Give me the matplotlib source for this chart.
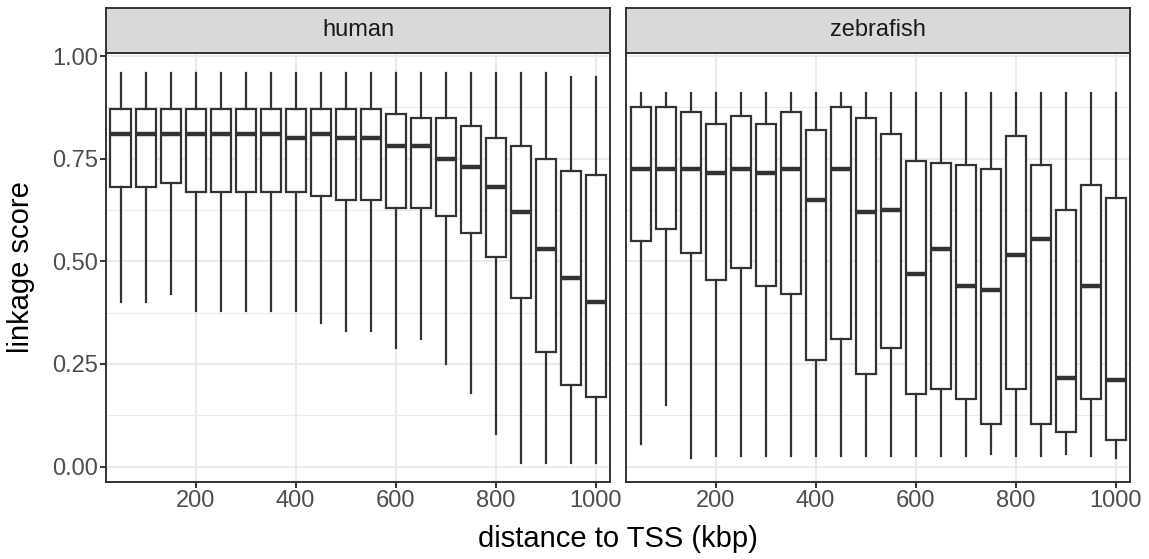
import matplotlib
matplotlib.use("Agg")
import matplotlib.pyplot as plt
import numpy as np

plt.rcParams['font.family'] = ['Liberation Sans', 'DejaVu Sans']

# distancia ao TSS (kbp)
distancias = [50, 100, 150, 200, 250, 300, 350, 400, 450, 500,
              550, 600, 650, 700, 750, 800, 850, 900, 950, 1000]

# human: bigode superior, Q3, mediana, Q1, bigode inferior
human_sup = [0.96, 0.96, 0.96, 0.96, 0.96, 0.96, 0.96, 0.96, 0.96, 0.96,
             0.96, 0.96, 0.96, 0.96, 0.96, 0.96, 0.96, 0.96, 0.95, 0.95]
human_q3 = [0.87, 0.87, 0.87, 0.87, 0.87, 0.87, 0.87, 0.87, 0.87, 0.87,
            0.87, 0.86, 0.85, 0.85, 0.83, 0.80, 0.78, 0.75, 0.72, 0.71]
human_med = [0.81, 0.81, 0.81, 0.81, 0.81, 0.81, 0.81, 0.80, 0.81, 0.80,
             0.80, 0.78, 0.78, 0.75, 0.73, 0.68, 0.62, 0.53, 0.46, 0.40]
human_q1 = [0.68, 0.68, 0.69, 0.67, 0.67, 0.67, 0.67, 0.67, 0.66, 0.65,
            0.65, 0.63, 0.63, 0.61, 0.57, 0.51, 0.41, 0.28, 0.20, 0.17]
human_inf = [0.40, 0.40, 0.42, 0.38, 0.38, 0.38, 0.38, 0.38, 0.35, 0.33,
             0.33, 0.29, 0.31, 0.25, 0.18, 0.08, 0.01, 0.01, 0.01, 0.01]

# zebrafish
zebra_sup = [0.91] * 20
zebra_q3 = [0.875, 0.875, 0.865, 0.835, 0.855, 0.835, 0.865, 0.82, 0.875, 0.85,
            0.81, 0.745, 0.74, 0.735, 0.725, 0.805, 0.735, 0.625, 0.685, 0.655]
zebra_med = [0.725, 0.725, 0.725, 0.715, 0.725, 0.715, 0.725, 0.65, 0.725, 0.62,
             0.625, 0.468, 0.53, 0.44, 0.43, 0.515, 0.555, 0.215, 0.44, 0.21]
zebra_q1 = [0.55, 0.58, 0.52, 0.455, 0.485, 0.44, 0.42, 0.26, 0.31, 0.225,
            0.29, 0.178, 0.19, 0.165, 0.105, 0.19, 0.105, 0.085, 0.165, 0.065]
zebra_inf = [0.055, 0.15, 0.02, 0.025, 0.025, 0.025, 0.025, 0.025, 0.025, 0.025,
             0.025, 0.025, 0.025, 0.025, 0.03, 0.025, 0.025, 0.03, 0.025, 0.02]

paineis = [
    ("human", human_sup, human_q3, human_med, human_q1, human_inf),
    ("zebrafish", zebra_sup, zebra_q3, zebra_med, zebra_q1, zebra_inf),
]

cinzaEscuro = "#333333"
cinzaGrade = "#EBEBEB"

fig = plt.figure(figsize=(11.49, 5.59), dpi=100)

esquerdas = [106 / 1149, 626 / 1149]
largura = 504 / 1149
baixo = (559 - 482) / 559
altura = (482 - 53) / 559
alturaFaixa = 45 / 559

for i, (nome, sup, q3, med, q1, inf) in enumerate(paineis):
    ax = fig.add_axes([esquerdas[i], baixo, largura, altura])

    estatisticas = []
    for k in range(len(distancias)):
        estatisticas.append({"whislo": inf[k], "q1": q1[k], "med": med[k],
                             "q3": q3[k], "whishi": sup[k], "fliers": []})

    ax.bxp(estatisticas, positions=distancias, widths=40, showcaps=False,
           showfliers=False, patch_artist=True,
           boxprops=dict(facecolor="white", edgecolor=cinzaEscuro, linewidth=1.6),
           whiskerprops=dict(color=cinzaEscuro, linewidth=1.6),
           medianprops=dict(color=cinzaEscuro, linewidth=3.2, solid_capstyle="butt"),
           zorder=3)

    ax.set_xlim(21, 1029)
    ax.set_ylim(-0.0375, 1.0075)
    ax.set_xticks([200, 400, 600, 800, 1000])
    ax.set_xticklabels(["200", "400", "600", "800", "1000"])
    ax.set_yticks([0, 0.25, 0.5, 0.75, 1.0])
    ax.set_yticks([0.125, 0.375, 0.625, 0.875], minor=True)
    ax.grid(which="major", color=cinzaGrade, linewidth=1.5, zorder=0)
    ax.grid(which="minor", axis="y", color=cinzaGrade, linewidth=0.8, zorder=0)
    ax.set_axisbelow(True)

    for lado in ax.spines.values():
        lado.set_color(cinzaEscuro)
        lado.set_linewidth(1.4)

    ax.tick_params(which="major", length=4, width=1.4, color=cinzaEscuro,
                   labelcolor="#4D4D4D", labelsize=17, pad=2)
    ax.tick_params(which="minor", length=0)

    if i == 0:
        ax.set_yticklabels(["0.00", "0.25", "0.50", "0.75", "1.00"])
    else:
        ax.tick_params(axis="y", which="both", length=0, labelleft=False)

    # faixa com o nome do painel
    faixa = fig.add_axes([esquerdas[i], baixo + altura, largura, alturaFaixa])
    faixa.set_facecolor("#D9D9D9")
    faixa.set_xticks([])
    faixa.set_yticks([])
    for lado in faixa.spines.values():
        lado.set_color(cinzaEscuro)
        lado.set_linewidth(1.4)
    faixa.text(0.5, 0.5, nome, ha="center", va="center", fontsize=17,
               color="#1A1A1A", transform=faixa.transAxes)

fig.text(21 / 1149, 1 - 267 / 559, "linkage score", rotation=90,
         ha="center", va="center", fontsize=21, color="black")
fig.text((106 + 1130) / 2 / 1149, 20 / 559, "distance to TSS (kbp)",
         ha="center", va="center", fontsize=21, color="black")

fig.savefig("out.png", dpi=100)
